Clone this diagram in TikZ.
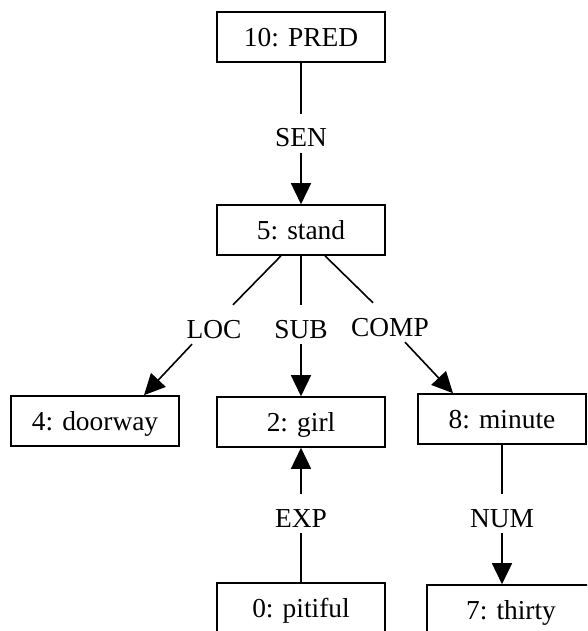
\documentclass[tikz,border=0pt]{standalone}
\usepackage{fontspec}
\setmainfont{Liberation Serif}
\usetikzlibrary{arrows.meta}
\begin{document}
\begin{tikzpicture}[x=1pt,y=-1pt,
  every node/.style={font=\fontsize{27.4pt}{33pt}\selectfont},
  wbox/.style={draw,line width=1.6pt,minimum width=168pt,minimum height=50pt,inner sep=0pt,text height=19pt,text depth=0pt},
  lbl/.style={inner sep=0pt,text height=33pt,text depth=6pt,anchor=base},
  conn/.style={line width=1.6pt},
  arr/.style={conn,-{Triangle[length=21pt,width=20pt]}}]
\useasboundingbox (0,0) rectangle (587,631);
\fill[white] (0,0) rectangle (587,631);
\clip (0,0) rectangle (587,631);
% boxes
\node[wbox] (p10) at (301,37) {10: PRED};
\node[wbox] (s5) at (301,230) {5: stand};
\node[wbox] (d4) at (95,421) {4: doorway};
\node[wbox] (g2) at (301,422) {2: girl};
\node[wbox] (m8) at (502,419) {8: minute};
\node[wbox] (p0) at (301,608) {0: pitiful};
\node[wbox] (t7) at (511,610) {7: thirty};
% labels
\node[lbl] (SEN) at (301,147) {SEN};
\node[lbl] (LOC) at (214,338) {LOC};
\node[lbl] (SUB) at (301,338) {SUB};
\node[lbl] (COMP) at (390,336) {COMP};
\node[lbl] (EXP) at (301,527) {EXP};
\node[lbl] (NUM) at (502,527) {NUM};
% connectors
\draw[conn] (p10.south) -- (SEN.north);
\draw[arr] (SEN.south) -- (s5.north);
\draw[conn] ([xshift=-20pt]s5.south) -- ([xshift=19pt]LOC.north);
\draw[arr] ([xshift=-22pt]LOC.south) -- ([xshift=49pt]d4.north);
\draw[conn] (s5.south) -- (SUB.north);
\draw[arr] (SUB.south) -- (g2.north);
\draw[conn] ([xshift=24pt]s5.south) -- ([xshift=-17pt]COMP.north);
\draw[arr] ([xshift=15pt]COMP.south) -- ([xshift=-49pt]m8.north);
\draw[conn] (p0.north) -- (EXP.south);
\draw[arr] (EXP.north) -- (g2.south);
\draw[conn] (m8.south) -- (NUM.north);
\draw[arr] (NUM.south) -- (NUM.south |- t7.north);
\end{tikzpicture}
\end{document}
